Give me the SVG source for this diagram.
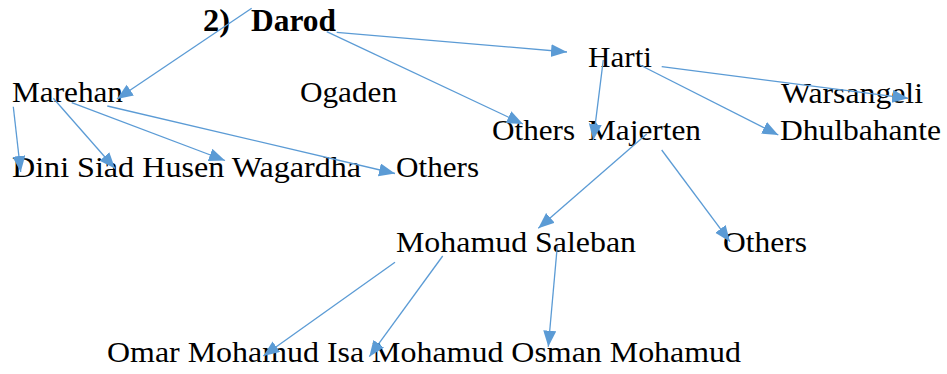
<svg xmlns="http://www.w3.org/2000/svg" width="947" height="374" viewBox="0 0 947 374">
<defs>
<style>
text{font-family:"Liberation Serif","Times New Roman",serif;font-size:30px;fill:#000}
.b{font-weight:bold;font-size:32px}
.c{stroke:#5B9BD5;stroke-width:1.3;fill:none;marker-end:url(#ah)}
</style>
<marker id="ah" markerUnits="userSpaceOnUse" markerWidth="17" markerHeight="14" refX="16" refY="6.5" orient="auto">
<path d="M0,0 L16,6.5 L0,13 z" fill="#5B9BD5"/>
</marker>
</defs>
<rect width="947" height="374" fill="#fff"/>
<g id="darod"><text class="b" x="203" y="31" textLength="27" lengthAdjust="spacingAndGlyphs">2)</text><text class="b" x="251" y="31" textLength="85" lengthAdjust="spacingAndGlyphs">Darod</text></g>
<g id="harti"><text x="588" y="67" textLength="64" lengthAdjust="spacingAndGlyphs">Harti</text></g>
<g id="marehan"><text x="12" y="102" textLength="111" lengthAdjust="spacingAndGlyphs">Marehan</text></g>
<g id="ogaden"><text x="300" y="102" textLength="97" lengthAdjust="spacingAndGlyphs">Ogaden</text></g>
<g id="warsangeli"><text x="781" y="103" textLength="142" lengthAdjust="spacingAndGlyphs">Warsangeli</text></g>
<g id="others-mid"><text x="492" y="140" textLength="83" lengthAdjust="spacingAndGlyphs">Others</text></g>
<g id="majerten"><text x="588" y="140" textLength="113" lengthAdjust="spacingAndGlyphs">Majerten</text></g>
<g id="dhulbahante"><text x="780" y="140" textLength="161" lengthAdjust="spacingAndGlyphs">Dhulbahante</text></g>
<g id="marehan-children"><text x="12" y="177" textLength="349" lengthAdjust="spacingAndGlyphs">Dini Siad Husen Wagardha</text></g>
<g id="others-left"><text x="396" y="177" textLength="83" lengthAdjust="spacingAndGlyphs">Others</text></g>
<g id="mohamud-saleban"><text x="396" y="252" textLength="240" lengthAdjust="spacingAndGlyphs">Mohamud Saleban</text></g>
<g id="others-right"><text x="723" y="252" textLength="84" lengthAdjust="spacingAndGlyphs">Others</text></g>
<g id="saleban-children"><text x="107" y="362" textLength="634" lengthAdjust="spacingAndGlyphs">Omar Mohamud Isa Mohamud Osman Mohamud</text></g>
<g id="connectors">
<line class="c" x1="251.7" y1="8.3" x2="117" y2="99"/>
<line class="c" x1="326.7" y1="31.7" x2="523" y2="124"/>
<line class="c" x1="336.7" y1="32.3" x2="567" y2="52"/>
<line class="c" x1="13.3" y1="106.7" x2="20.7" y2="172"/>
<line class="c" x1="53.3" y1="98.3" x2="115" y2="168.5"/>
<line class="c" x1="71.7" y1="102.7" x2="225" y2="160.5"/>
<line class="c" x1="107.3" y1="106" x2="395" y2="173.5"/>
<line class="c" x1="603.3" y1="60" x2="593.3" y2="140"/>
<line class="c" x1="640" y1="65" x2="778.3" y2="135"/>
<line class="c" x1="661.7" y1="66.7" x2="908.3" y2="98.3"/>
<line class="c" x1="646.7" y1="134" x2="538.3" y2="228.3"/>
<line class="c" x1="661.7" y1="150" x2="730" y2="241.7"/>
<line class="c" x1="395" y1="262.3" x2="263.3" y2="356"/>
<line class="c" x1="442.7" y1="256" x2="369.3" y2="356.7"/>
<line class="c" x1="557.3" y1="246" x2="548.3" y2="346.7"/>
</g>
</svg>
